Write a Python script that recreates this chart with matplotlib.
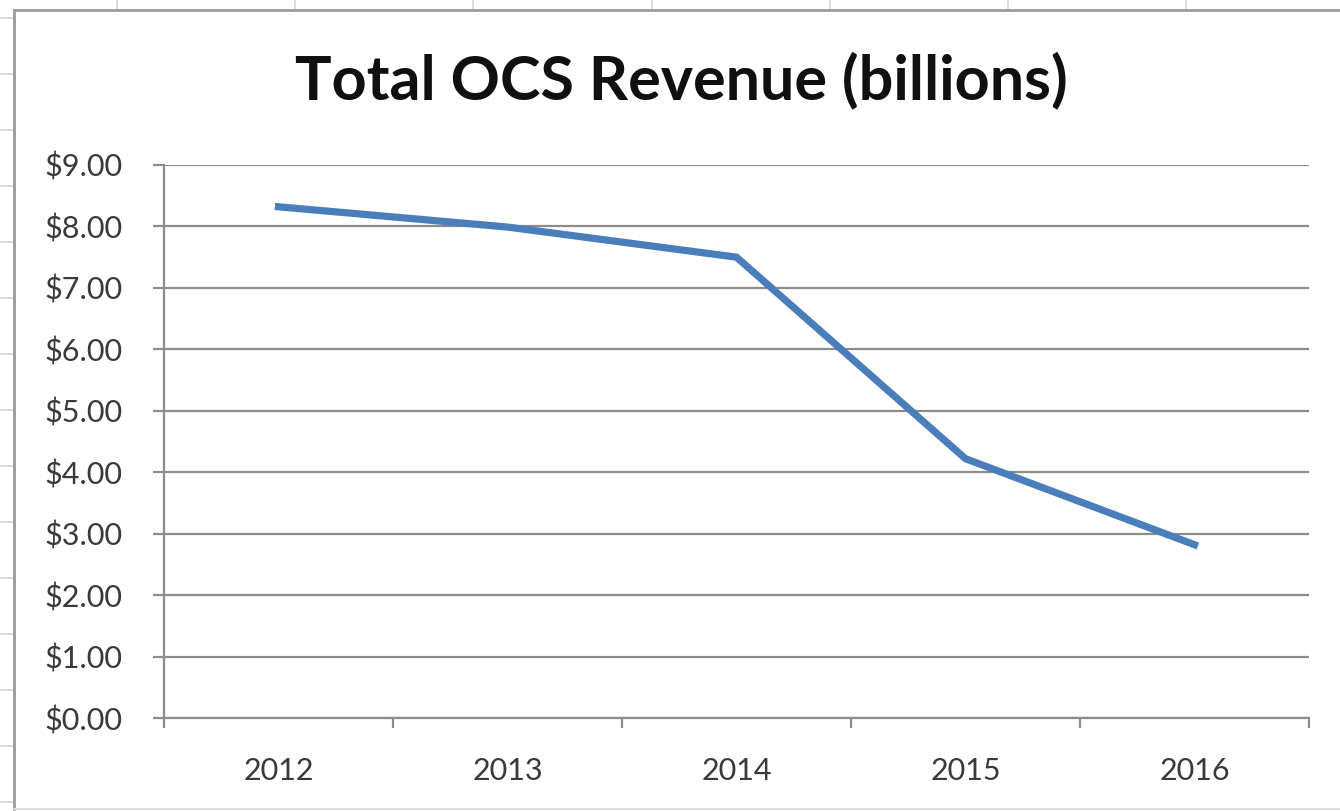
import matplotlib
matplotlib.use("Agg")
import matplotlib.pyplot as plt
from matplotlib.lines import Line2D
from matplotlib.ticker import FuncFormatter, FixedLocator

years = ["2012", "2013", "2014", "2015", "2016"]
revenue = [8.32, 7.99, 7.50, 4.22, 2.82]
yticks = [0, 1, 2, 3, 4, 5, 6, 7, 8, 9]
title = "Total OCS Revenue (billions)"

W, H = 1340, 811
fig = plt.figure(figsize=(W / 100, H / 100), dpi=100)
fig.patch.set_facecolor("white")

grid_c = "#d4d4d4"
# spreadsheet background lines (outside chart)
for x in [117, 295, 473, 652, 830, 1008, 1186]:
    fig.add_artist(Line2D([x / W, x / W], [1, 1 - 10 / H], color=grid_c, lw=1.2))
for y in range(18, 811, 56):
    fig.add_artist(Line2D([0, 14 / W], [1 - y / H, 1 - y / H], color=grid_c, lw=1.2))
# chart border
border = "#9a9a9a"
fig.add_artist(Line2D([14 / W, 14 / W], [1 - 10 / H, 1 - 809 / H], color=border, lw=2))
fig.add_artist(Line2D([14 / W, 1], [1 - 10 / H, 1 - 10 / H], color=border, lw=2))
fig.add_artist(Line2D([14 / W, 1], [1 - 809 / H, 1 - 809 / H], color="#dcdcdc", lw=1.5))

ax = fig.add_axes([164 / W, 1 - 718 / H, (1309 - 164) / W, (718 - 165) / H])
ax.set_facecolor("white")
x = list(range(len(years)))
ax.plot(x, revenue, color="#4a7ebb", lw=5.2, solid_joinstyle="miter", zorder=3)

ax.set_xlim(-0.5, len(years) - 0.5)
ax.set_ylim(0, 9)
ax.set_yticks(yticks)
ax.yaxis.set_major_formatter(FuncFormatter(lambda v, p: f"${v:.2f}"))
ax.set_xticks(x)
ax.set_xticklabels(years)
ax.xaxis.set_minor_locator(FixedLocator([i - 0.5 for i in range(len(years) + 1)]))

axc = "#8c8c8c"
ax.grid(axis="y", color=axc, lw=1.6, zorder=1)
for s in ["top", "right"]:
    ax.spines[s].set_visible(False)
for s in ["left", "bottom"]:
    ax.spines[s].set_color(axc)
    ax.spines[s].set_linewidth(1.6)

fam = ["Lato", "DejaVu Sans"]
ax.tick_params(axis="y", which="major", length=8, width=1.6, color=axc, pad=22,
               labelsize=22, labelcolor="#3a3a3a")
ax.tick_params(axis="x", which="major", length=0, pad=28, labelsize=22, labelcolor="#3a3a3a")
ax.tick_params(axis="x", which="minor", length=7, width=1.6, color=axc)
for lab in ax.get_xticklabels() + ax.get_yticklabels():
    lab.set_family(fam)

fig.text(681 / W, 1 - 80 / H, title, ha="center", va="center", fontsize=44,
         fontweight="bold", family=fam, color="#101010")

fig.savefig("out.png", dpi=100, facecolor="white")
